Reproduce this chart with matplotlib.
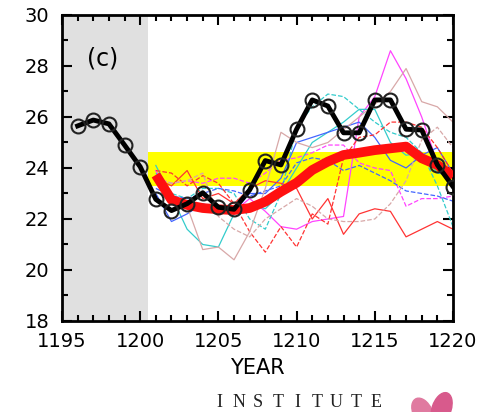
import matplotlib.pyplot as plt
from matplotlib.patches import Ellipse
from matplotlib.ticker import MultipleLocator

# observed series (black, with circles)
obs_years = list(range(1196, 1221))
obs_vals = [25.65, 25.88, 25.73, 24.9, 24.05, 22.77, 22.33, 22.6, 23.03, 22.46,
            22.38, 23.14, 24.29, 24.12, 25.52, 26.67, 26.43, 25.38, 25.38, 26.67,
            26.67, 25.52, 25.49, 24.12, 23.27]

# ensemble years and mean (thick red)
ens_years = list(range(1201, 1221))
ens_mean = [23.73, 22.75, 22.55, 22.43, 22.38, 22.35, 22.43, 22.68, 23.07, 23.42,
            23.92, 24.25, 24.51, 24.6, 24.7, 24.77, 24.84, 24.38, 24.12, 23.66]

# ensemble members (thin lines)
mag_solid = [23.9, 22.8, 22.6, 22.4, 22.2, 22.3, 22.8, 22.3, 21.7, 21.6,
             21.9, 22.0, 22.1, 26.0, 26.8, 28.6, 27.5, 26.0, 24.2, 23.6]
mag_dash = [23.6, 23.4, 23.5, 23.4, 23.6, 23.6, 23.4, 23.8, 24.3, 24.4,
            24.6, 24.9, 24.9, 24.2, 24.0, 23.9, 22.5, 22.8, 22.8, 22.9]
cyan_solid = [24.1, 22.9, 21.6, 21.0, 20.9, 22.2, 22.6, 22.4, 23.0, 24.0,
              25.0, 25.4, 25.8, 26.3, 26.3, 25.0, 24.5, 24.6, 23.8, 23.7]
cyan_dash = [23.8, 23.0, 22.8, 23.2, 23.2, 23.0, 22.0, 21.6, 23.0, 25.6,
             26.4, 26.9, 26.8, 26.3, 25.8, 25.4, 25.2, 24.6, 23.3, 21.7]
blue_solid = [23.0, 21.9, 22.2, 22.6, 22.4, 22.3, 23.0, 23.0, 23.6, 25.0,
              25.2, 25.4, 25.6, 25.8, 25.2, 24.3, 24.0, 24.5, 24.8, 23.8]
blue_dash = [23.2, 22.9, 22.8, 23.0, 23.2, 23.1, 22.9, 23.1, 23.3, 24.2,
             24.4, 24.3, 23.9, 24.1, 23.8, 23.5, 23.1, 23.0, 22.9, 22.7]
red_solid = [23.6, 23.3, 23.9, 22.8, 23.0, 22.6, 23.2, 23.5, 23.4, 23.2,
             22.0, 22.8, 21.4, 22.2, 22.4, 22.3, 21.3, 21.6, 21.9, 21.6]
red_dash = [23.9, 23.8, 23.3, 23.7, 23.4, 22.6, 21.5, 20.7, 21.7, 20.9,
            22.2, 21.8, 24.4, 25.2, 25.3, 25.8, 25.8, 25.6, 24.8, 23.8]
rb_solid = [23.5, 22.9, 22.5, 20.8, 20.9, 20.4, 21.5, 23.2, 25.4, 25.0,
            24.8, 25.0, 25.5, 26.0, 26.5, 27.0, 27.9, 26.6, 26.4, 25.8]
rb_dash = [23.6, 23.4, 23.5, 23.8, 22.1, 21.6, 21.3, 22.0, 22.4, 22.8,
           22.5, 22.0, 21.9, 21.9, 22.0, 22.6, 23.5, 25.1, 25.6, 24.8]

members = [
    (mag_solid, "#ff44ff", "-"), (mag_dash, "#ff44ff", "--"),
    (cyan_solid, "#33cccc", "-"), (cyan_dash, "#33cccc", "--"),
    (blue_solid, "#4466ff", "-"), (blue_dash, "#4466ff", "--"),
    (red_solid, "#ff3333", "-"), (red_dash, "#ff3333", "--"),
    (rb_solid, "#d8a8a8", "-"), (rb_dash, "#d8a8a8", "--"),
]

band_lo, band_hi = 23.3, 24.63

fig = plt.figure(figsize=(4.79, 4.12), dpi=100)
ax = fig.add_axes([0.1294, 0.2209, 0.8163, 0.7427])

ax.axvspan(1195, 1200.5, color="#e0e0e0", zorder=0, lw=0)
ax.fill_between([1200.5, 1220], band_lo, band_hi, color="#ffff00", lw=0, zorder=1)

for vals, col, ls in members:
    ax.plot(ens_years, vals, color=col, ls=ls, lw=0.9, zorder=2)

ax.plot(ens_years, ens_mean, color="#ff1010", lw=7, zorder=3, solid_capstyle="butt")
ax.plot(obs_years, obs_vals, color="black", lw=3.5, marker="o", markersize=10,
        markerfacecolor="none", markeredgecolor="#222222", markeredgewidth=1.5, zorder=4)

ax.set_xlim(1195, 1220)
ax.set_ylim(18, 30)
ax.xaxis.set_major_locator(MultipleLocator(5))
ax.xaxis.set_minor_locator(MultipleLocator(1))
ax.yaxis.set_major_locator(MultipleLocator(2))
ax.yaxis.set_minor_locator(MultipleLocator(1))
ax.tick_params(which="both", direction="in", top=True, right=True, width=1.5,
               labelsize=14)
ax.tick_params(axis="x", pad=8)
ax.tick_params(axis="y", pad=9)
ax.tick_params(which="major", length=7)
ax.tick_params(which="minor", length=4)
for s in ax.spines.values():
    s.set_linewidth(2)

ax.set_xlabel("YEAR", fontsize=15, labelpad=5)
ax.text(1197.6, 28.3, "(c)", fontsize=17, ha="center", va="center")

# footer logo text, letter by letter to match its wide spacing
letters = "INSTITUTE"
for i, ch in enumerate(letters):
    fig.text((219 + i * 19.6) / 479, 0.022, ch, family="Liberation Serif",
             fontsize=13, ha="center", va="center", color="#222222")
fig.patches.append(Ellipse((0.882, 0.0), 0.04, 0.07, angle=20,
                           transform=fig.transFigure, color="#e07aa0", figure=fig))
fig.patches.append(Ellipse((0.922, 0.008), 0.04, 0.08, angle=-15,
                           transform=fig.transFigure, color="#d85a8c", figure=fig))

fig.savefig("out.png", dpi=100)
